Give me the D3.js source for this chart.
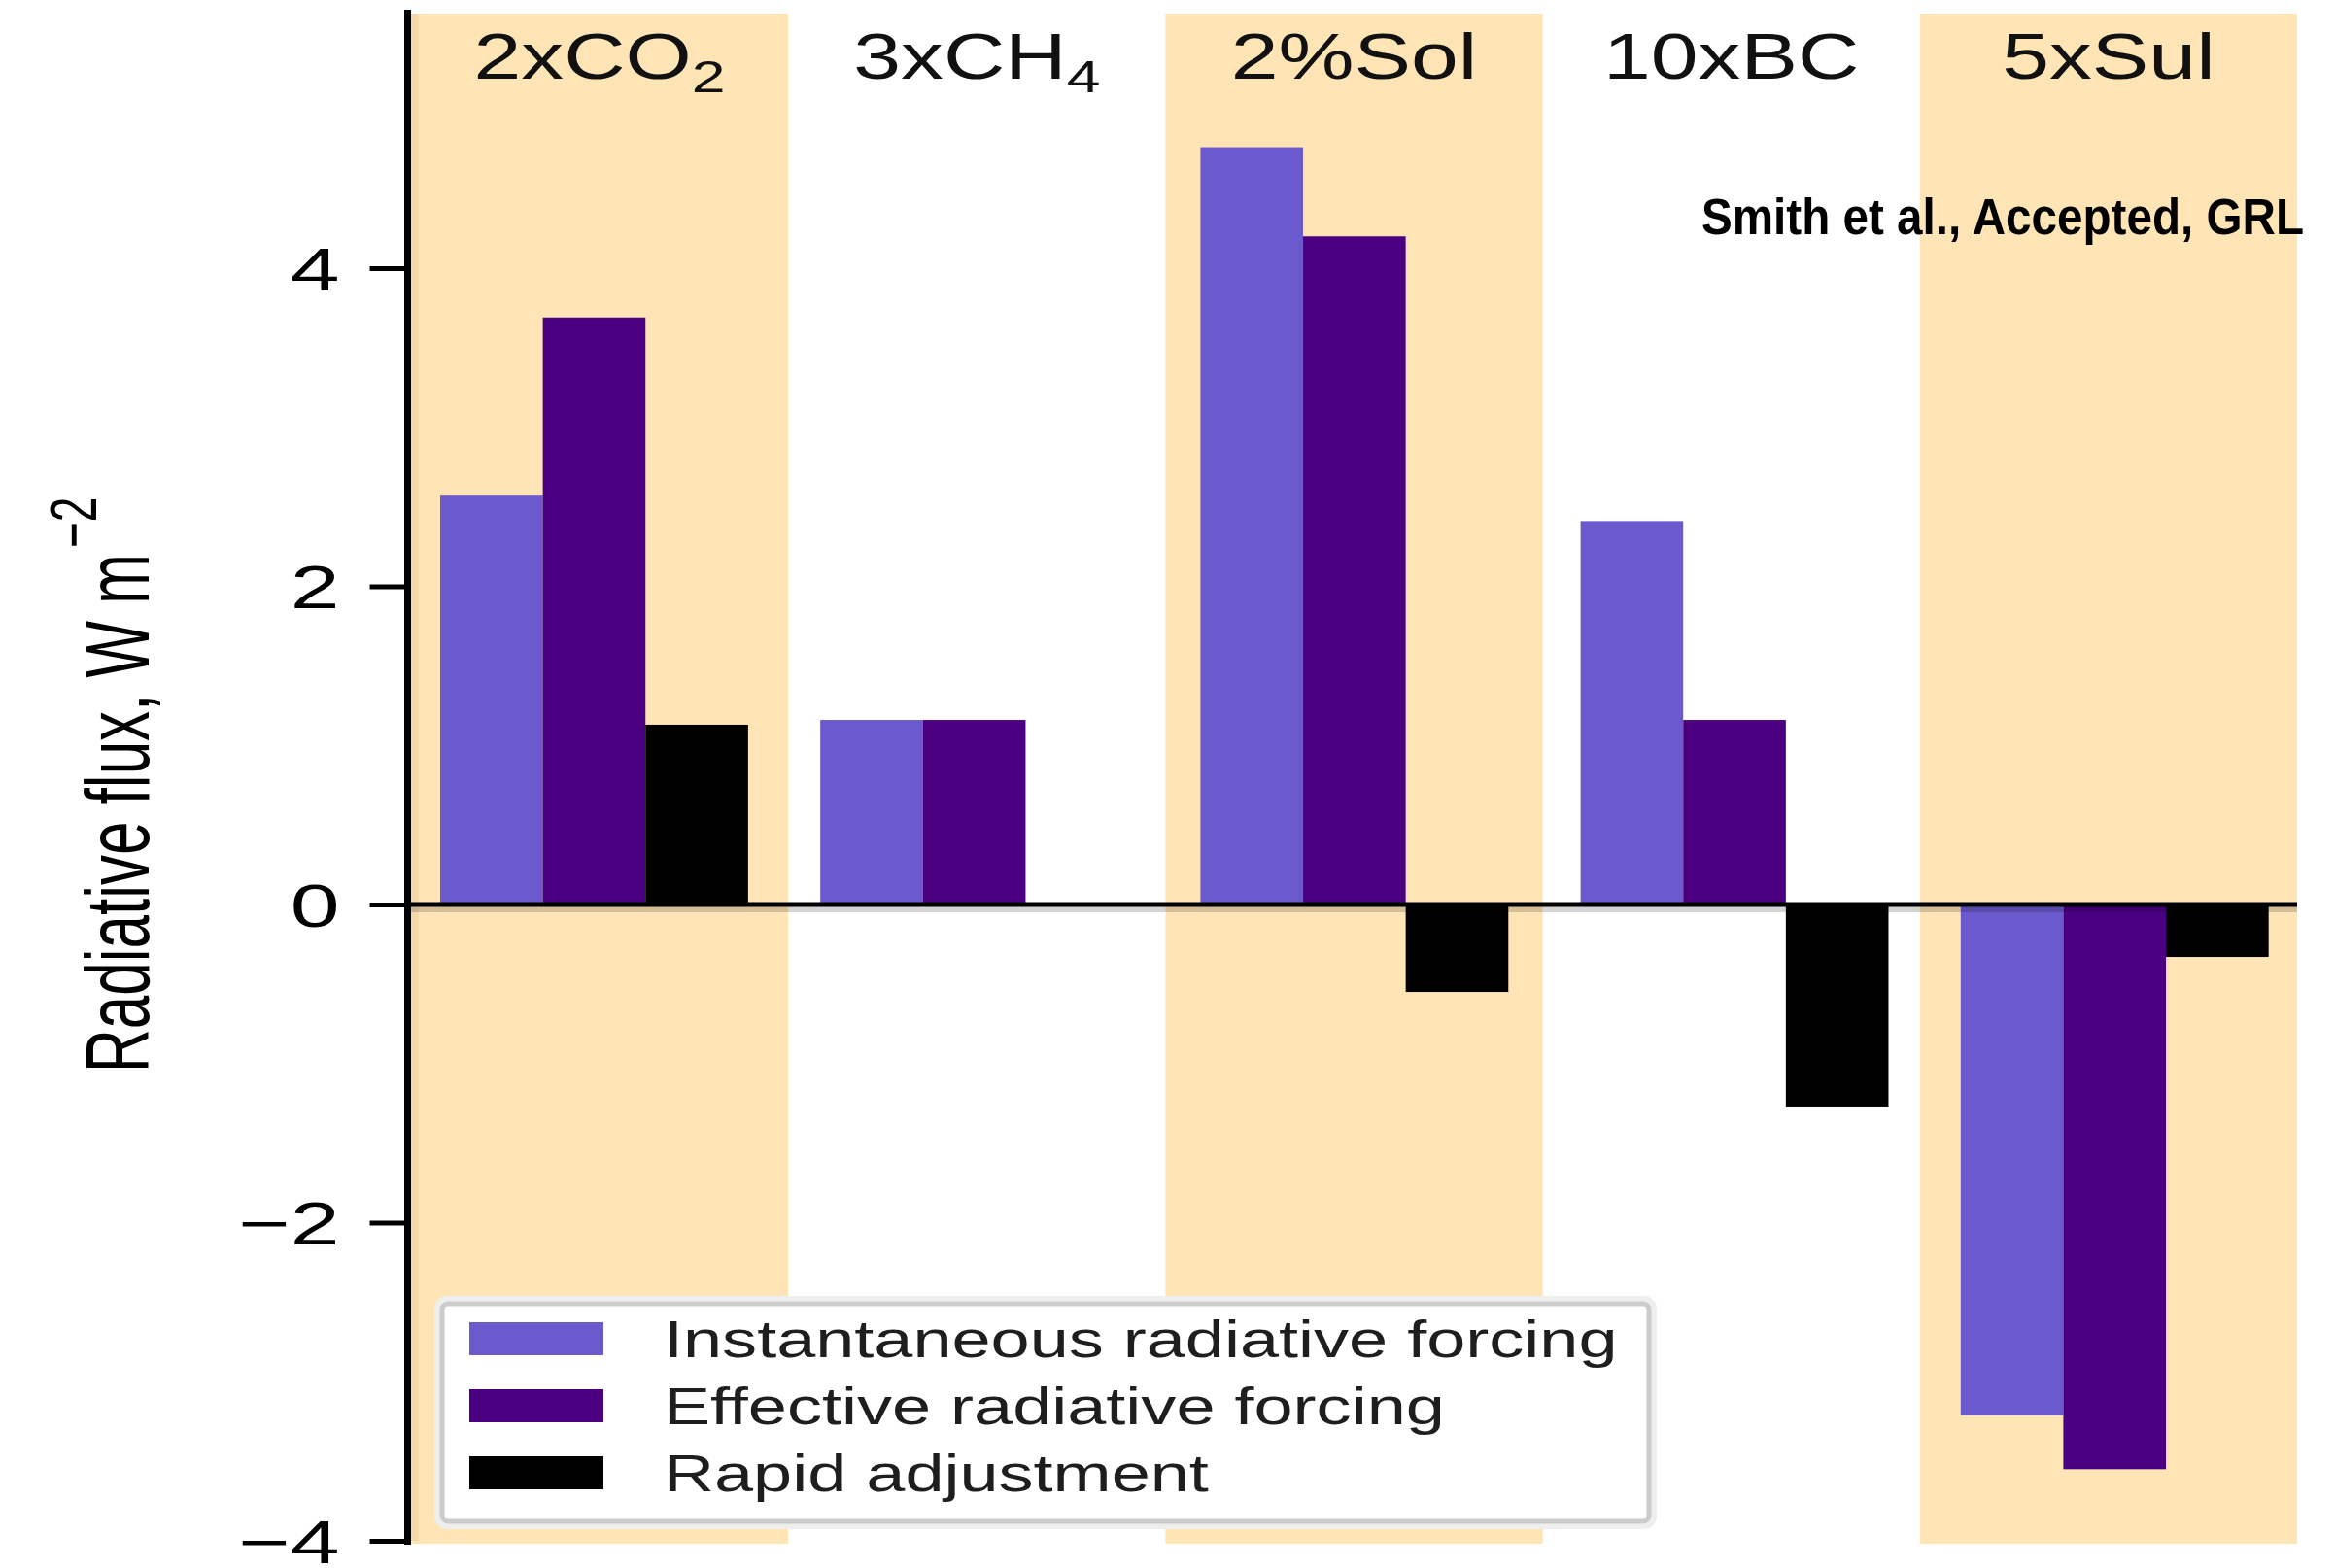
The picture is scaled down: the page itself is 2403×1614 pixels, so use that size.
<!DOCTYPE html>
<html>
<head>
<meta charset="utf-8">
<script src="https://cdn.jsdelivr.net/npm/d3@7"></script>
<style>
  body { margin: 0; background: #fff; }
  svg { display: block; font-family: "Liberation Sans", Arial, sans-serif; }
</style>
</head>
<body>
<div id="chart"></div>
<script>
// Chart data
const categories = ['2xCO2', '3xCH4', '2%Sol', '10xBC', '5xSul'];
const labelMain = ['2xCO', '3xCH', '2%Sol', '10xBC', '5xSul'];
const labelSub = ['2', '4', '', '', ''];
const seriesNames = ['Instantaneous radiative forcing', 'Effective radiative forcing', 'Rapid adjustment'];
const irf = [2.57, 1.16, 4.76, 2.41, -3.21];
const erf = [3.69, 1.16, 4.20, 1.16, -3.55];
const ra = [1.13, 0, -0.55, -1.27, -0.33];
const yTicks = [-4, -2, 0, 2, 4];

const SERIES_COLORS = ['#6a5acd', '#4b0082', '#000000'];
const BAND_COLOR = '#ffe4b5';

const width = 2403, height = 1614;
const plot = { left: 423, right: 2364, top: 14, bottom: 1586 };

const svg = d3.select('#chart')
    .append('svg')
    .attr('width', width)
    .attr('height', height);

const x = d3.scaleBand()
    .domain(categories)
    .range([plot.left, plot.right]);

// bar groups sit on a slightly wider pitch than the shaded bands
const xGroup = d3.scaleBand()
    .domain(categories)
    .range([453, 2409]);

const x1 = d3.scaleBand()
    .domain(seriesNames)
    .range([0, xGroup.bandwidth() * 0.81]);

const y = d3.scaleLinear()
    .domain([-4, 5.6])
    .range([plot.bottom, plot.top]);

// alternating shaded bands
svg.append('g')
    .selectAll('rect')
    .data(categories.filter((d, i) => i % 2 === 0))
    .enter()
    .append('rect')
    .attr('x', d => x(d))
    .attr('y', y(5.6))
    .attr('width', x.bandwidth())
    .attr('height', y(-4) - y(5.6) + 3)
    .attr('fill', BAND_COLOR);

// bars
const rows = categories.map((c, i) => ({ cat: c, values: [irf[i], erf[i], ra[i]] }));

svg.append('g')
    .selectAll('g')
    .data(rows)
    .enter()
    .append('g')
    .attr('transform', d => `translate(${xGroup(d.cat)},0)`)
    .selectAll('rect')
    .data(d => d.values.map((v, k) => ({ name: seriesNames[k], value: v, k: k })))
    .enter()
    .append('rect')
    .attr('x', d => x1(d.name))
    .attr('y', d => y(Math.max(0, d.value)))
    .attr('width', x1.bandwidth())
    .attr('height', d => Math.abs(y(d.value) - y(0)))
    .attr('fill', d => SERIES_COLORS[d.k]);

// faint shadows next to axis and zero line
svg.append('rect')
    .attr('x', plot.left)
    .attr('y', y(5.6))
    .attr('width', 8)
    .attr('height', y(-4) - y(5.6))
    .attr('fill', 'rgba(0,0,0,0.05)');

svg.append('rect')
    .attr('x', plot.left)
    .attr('y', y(0) + 2)
    .attr('width', plot.right - plot.left)
    .attr('height', 6)
    .attr('fill', 'rgba(0,0,0,0.17)');

// zero line
svg.append('line')
    .attr('x1', plot.left - 4)
    .attr('x2', plot.right)
    .attr('y1', y(0))
    .attr('y2', y(0))
    .attr('stroke', '#000')
    .attr('stroke-width', 5);

// y axis
const yAxis = svg.append('g')
    .attr('transform', `translate(${plot.left - 3.5},0)`)
    .call(d3.axisLeft(y).tickValues(yTicks).tickSize(39).tickSizeOuter(0).tickPadding(0));

yAxis.select('.domain')
    .attr('d', `M0,${plot.top - 4}V${plot.bottom + 4}`)
    .attr('stroke', '#000')
    .attr('stroke-width', 7);

yAxis.selectAll('.tick line')
    .attr('stroke', '#000')
    .attr('stroke-width', 5);

yAxis.selectAll('.tick text')
    .attr('font-size', 63)
    .attr('font-family', '"Liberation Sans", Arial, sans-serif')
    .attr('fill', '#000')
    .attr('text-anchor', 'end')
    .attr('x', -70 / 1.45)
    .attr('dy', '0.357em')
    .attr('transform', 'scale(1.45,1)');

// y axis title
const yTitle = svg.append('text')
    .attr('transform', 'translate(153,1104) rotate(-90) scale(1,1.5)')
    .attr('font-size', 62)
    .attr('fill', '#000');
yTitle.append('tspan').text('Radiative flux, W m');
yTitle.append('tspan')
    .attr('font-size', 46)
    .attr('dx', 6)
    .attr('dy', -36)
    .text('\u22122');

// category labels
categories.forEach((c, i) => {
    const t = svg.append('text')
        .attr('transform', `translate(${x(c) + x.bandwidth() / 2},81) scale(1.33,1)`)
        .attr('text-anchor', 'middle')
        .attr('font-size', 66)
        .attr('fill', '#111');
    t.append('tspan').text(labelMain[i]);
    if (labelSub[i]) {
        t.append('tspan')
            .attr('font-size', 47)
            .attr('dy', 14)
            .text(labelSub[i]);
    }
});

// citation
svg.append('text')
    .attr('x', 1751)
    .attr('y', 241)
    .attr('font-size', 51)
    .attr('font-weight', 'bold')
    .attr('textLength', 620)
    .attr('lengthAdjust', 'spacingAndGlyphs')
    .attr('fill', '#000')
    .text('Smith et al., Accepted, GRL');

// legend
const legend = svg.append('g');

legend.append('rect')
    .attr('x', 452)
    .attr('y', 1339)
    .attr('width', 1248)
    .attr('height', 230)
    .attr('rx', 8)
    .attr('fill', '#fff')
    .attr('stroke', '#eeeeee')
    .attr('stroke-width', 10);

legend.append('rect')
    .attr('x', 455)
    .attr('y', 1342)
    .attr('width', 1242)
    .attr('height', 224)
    .attr('rx', 6)
    .attr('fill', '#fff')
    .attr('stroke', '#cccccc')
    .attr('stroke-width', 5);

const legendRows = [1378, 1447, 1516];
seriesNames.forEach((name, k) => {
    legend.append('rect')
        .attr('x', 483)
        .attr('y', legendRows[k] - 17)
        .attr('width', 138)
        .attr('height', 34)
        .attr('fill', SERIES_COLORS[k]);
    legend.append('text')
        .attr('transform', `translate(683,${legendRows[k] + 19}) scale(1.36,1)`)
        .attr('font-size', 53)
        .attr('fill', '#1e1e1e')
        .text(name);
});
</script>
</body>
</html>
